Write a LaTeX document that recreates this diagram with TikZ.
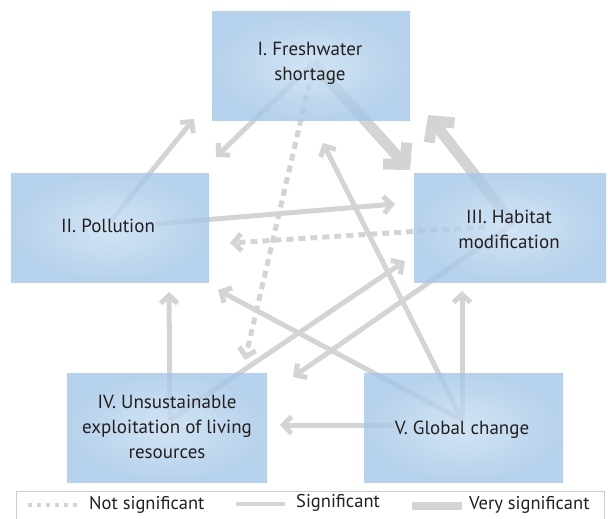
\documentclass[tikz,border=0pt]{standalone}
\usepackage{fontspec}
\setmainfont{PT Sans}
\usetikzlibrary{arrows.meta}
\definecolor{ln}{RGB}{212,212,212}
\definecolor{bin}{RGB}{198,221,242}
\definecolor{bout}{RGB}{164,198,230}
\definecolor{txt}{RGB}{35,31,32}
\definecolor{lgb}{RGB}{205,205,205}
\begin{document}
\begin{tikzpicture}[x=1pt,y=-1pt,
  sig/.style={draw=ln, line width=5pt, -{Straight Barb[length=8pt,width=17pt]}},
  vsig/.style={draw=ln, line width=11pt, -{Straight Barb[length=15pt,width=32pt]}},
  nsig/.style={draw=ln, line width=5pt, dash pattern=on 7pt off 5pt, -{Straight Barb[length=8pt,width=17pt]}},
  box/.style={rectangle, shading=radial, inner color=bin, outer color=bout, fill opacity=0.8, draw=none, inner sep=0pt},
  btxt/.style={text=txt, align=center, inner sep=0pt, font=\fontsize{19}{25}\selectfont},
  lab/.style={text=txt, font=\fontsize{18.5}{22}\selectfont, inner sep=0pt, anchor=west}]
\useasboundingbox (0,0) rectangle (608,519);

% origins and tips
\coordinate (oI) at (313,63);
\coordinate (oId) at (312,72);
\coordinate (oII) at (110,222);
\coordinate (oIIb) at (155,224);
\coordinate (oIII) at (513,224);
\coordinate (oIIId) at (485,227);
\coordinate (oIV) at (170,420);
\coordinate (oV) at (462,420);
\coordinate (oVh) at (395,425);

\coordinate (tI2) at (216,157);
\coordinate (tII1) at (194,119);
\coordinate (tI3) at (410,170);
\coordinate (tIII1) at (428,115);
\coordinate (tI4) at (245,360);
\coordinate (tII3) at (395,204);
\coordinate (tIII2) at (230,243);
\coordinate (tIV3) at (405,261);
\coordinate (tIII4) at (293,377);
\coordinate (tV1) at (323,143);
\coordinate (tV2) at (218,290);
\coordinate (tV3) at (462,291);
\coordinate (tV4) at (280,425);
\coordinate (tIV2) at (169,292);

% connectors
\draw[sig] (oI) -- (tI2);
\draw[sig] (oII) -- (tII1);
\draw[vsig] (oI) -- (tI3);
\draw[vsig] (oIII) -- (tIII1);
\draw[nsig] (oId) -- (tI4);
\draw[sig] (oIIb) -- (tII3);
\draw[nsig] (oIIId) -- (tIII2);
\draw[sig] (oIV) -- (tIV3);
\draw[sig] (oIII) -- (tIII4);
\draw[sig] (oV) -- (tV1);
\draw[sig] (oV) -- (tV2);
\draw[sig] (oV) -- (tV3);
\draw[sig] (oVh) -- (tV4);
\draw[sig] (oIV) -- (tIV2);

% boxes
\node[box, minimum width=198pt, minimum height=108pt] (b1) at (311,66) {};
\node[btxt] (t1) at (310,63) {I. Freshwater\\shortage};
\node[box, minimum width=198pt, minimum height=109pt] (b2) at (110,227.5) {};
\node[btxt] (t2) at (108,226) {II. Pollution};
\node[box, minimum width=192pt, minimum height=109pt] (b3) at (510,227.5) {};
\node[btxt] (t3) at (509,229) {III. Habitat\\modification};
\node[box, minimum width=200pt, minimum height=109pt] (b4) at (167,427.5) {};
\node[btxt] (t4) at (167,427) {IV. Unsustainable\\exploitation of living\\resources};
\node[box, minimum width=199pt, minimum height=109pt] (b5) at (463.5,427.5) {};
\node[btxt] (t5) at (462,430) {V. Global change};

% legend
\draw[draw=lgb, line width=0.8pt] (16,523) -- (16,491) -- (604,491) -- (604,523);
\draw[ln, line width=4pt, dash pattern=on 4pt off 5pt] (28,505) -- (80,505);
\node[lab] (l1) at (89,505) {Not significant};
\draw[ln, line width=4pt] (236,504) -- (285,504);
\node[lab] (l2) at (296,503) {Significant};
\draw[ln, line width=8pt] (412,506) -- (462,506);
\node[lab] (l3) at (469,505) {Very significant};
\end{tikzpicture}
\end{document}
